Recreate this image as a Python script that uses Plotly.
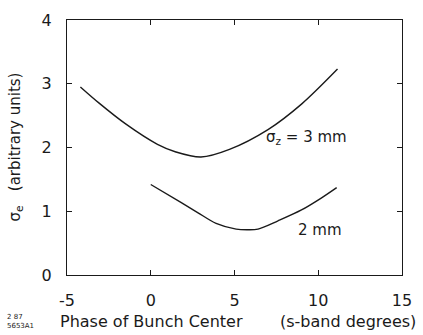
import plotly.graph_objects as go

# Data
x_3mm = [-4.2, -3.1, -1.5, 0.4, 1.5, 3.0, 4.7, 7.0, 9.0, 11.15]
y_3mm = [2.95, 2.70, 2.37, 2.05, 1.93, 1.85, 1.97, 2.28, 2.68, 3.23]

x_2mm = [0.0, 1.8, 2.8, 3.9, 5.1, 5.8, 6.4, 7.6, 9.0, 10.2, 11.1]
y_2mm = [1.42, 1.14, 0.98, 0.81, 0.72, 0.71, 0.72, 0.85, 1.02, 1.21, 1.37]

x_ticks = [-5, 0, 5, 10, 15]
y_ticks = [0, 1, 2, 3, 4]

FONT = "DejaVu Sans"
INK = "#1a1a1a"

fig = go.Figure()
for xs, ys in [(x_3mm, y_3mm), (x_2mm, y_2mm)]:
    fig.add_trace(go.Scatter(x=xs, y=ys, mode="lines",
                             line=dict(color=INK, width=1.4, shape="spline", smoothing=0.9),
                             showlegend=False, hoverinfo="skip"))

axis_common = dict(showline=True, linecolor=INK, linewidth=1.2, mirror="ticks",
                   ticks="inside", ticklen=5, tickcolor=INK, tickwidth=1,
                   showgrid=False, zeroline=False,
                   tickfont=dict(family=FONT, size=16, color=INK))

fig.update_xaxes(range=[-5, 15], tickvals=x_ticks, ticktext=[str(v) for v in x_ticks],
                 ticklabelstandoff=11, **axis_common)
fig.update_yaxes(range=[0, 4], tickvals=y_ticks, ticktext=[str(v) for v in y_ticks],
                 ticklabelstandoff=11, **axis_common)

annos = [
    dict(x=9.31, y=2.15, xref="x", yref="y", text="σ<sub>z</sub> = 3 mm",
         showarrow=False, font=dict(family=FONT, size=15, color=INK)),
    dict(x=10.08, y=0.70, xref="x", yref="y", text="2 mm",
         showarrow=False, font=dict(family=FONT, size=15, color=INK)),
    dict(x=0, y=0.5, xref="paper", yref="paper", xanchor="center", xshift=-52,
         text="σ<sub>e</sub>   (arbitrary units)",
         textangle=-90, showarrow=False, font=dict(family=FONT, size=15, color=INK)),
    dict(x=0, y=0, xref="paper", yref="paper", xanchor="center", xshift=151 - 67, yshift=-46,
         yanchor="middle", text="Phase of Bunch Center",
         showarrow=False, font=dict(family=FONT, size=16, color=INK)),
    dict(x=0, y=0, xref="paper", yref="paper", xanchor="center", xshift=348 - 67, yshift=-46,
         yanchor="middle", text="(s-band degrees)",
         showarrow=False, font=dict(family=FONT, size=16, color=INK)),
    dict(x=0, y=0, xref="paper", yref="paper", xanchor="center", xshift=20 - 67, yshift=-46,
         yanchor="middle", text="2 87<br>5653A1", align="left",
         showarrow=False, font=dict(family=FONT, size=7, color=INK)),
]
fig.update_layout(width=423, height=335, margin=dict(l=67, r=14, t=11, b=60),
                  paper_bgcolor="white", plot_bgcolor="white", annotations=annos)

fig.write_html("out.html")
